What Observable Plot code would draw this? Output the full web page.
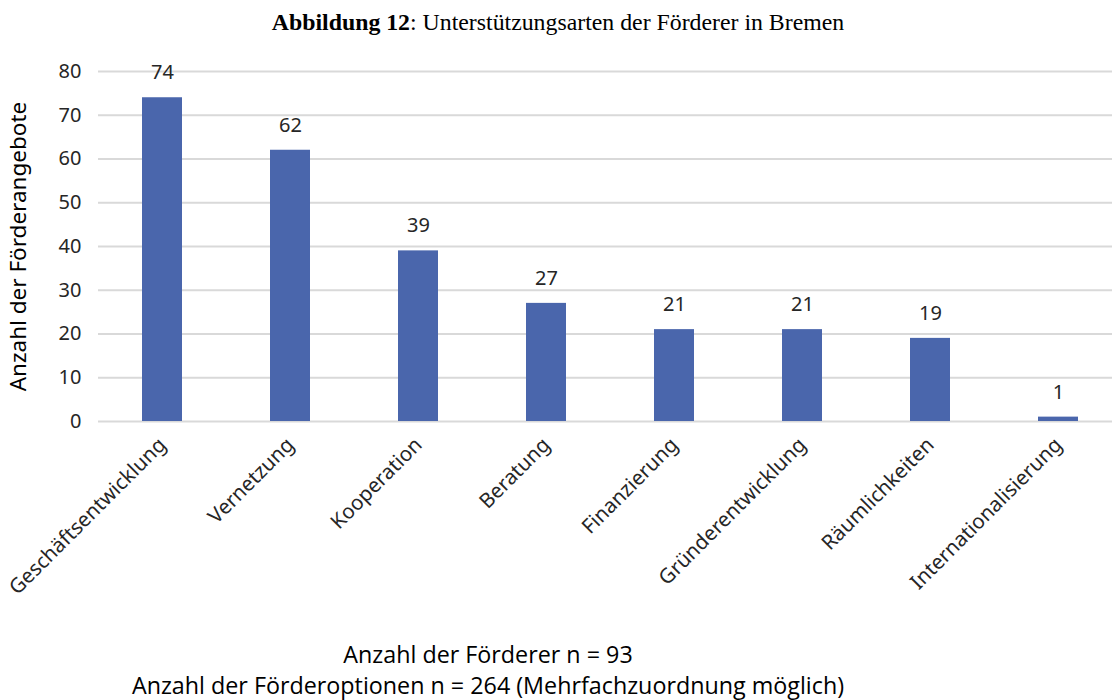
<!DOCTYPE html>
<html><head><meta charset="utf-8">
<script src="https://cdn.jsdelivr.net/npm/d3@7"></script>
<script src="https://cdn.jsdelivr.net/npm/@observablehq/plot@0.6"></script>
<style>
body{margin:0;background:#fff;width:1112px;overflow:hidden}
#title{height:44px;line-height:44px;text-align:center;font-family:"Liberation Serif",serif;font-size:23.8px;color:#000;padding-left:4px}
#caption{text-align:center;font-family:"Open Sans",sans-serif;font-size:23.3px;line-height:31px;color:#000;padding-top:15px;padding-right:136px}
svg{display:block}
</style></head><body>
<div id="title"><b>Abbildung 12</b>: Unterstützungsarten der Förderer in Bremen</div>
<div id="chart"></div>
<div id="caption">Anzahl der Förderer n = 93<br>Anzahl der Förderoptionen n = 264 (Mehrfachzuordnung möglich)</div>
<script>
const categories = ["Geschäftsentwicklung","Vernetzung","Kooperation","Beratung","Finanzierung","Gründerentwicklung","Räumlichkeiten","Internationalisierung"];
const values = [74,62,39,27,21,21,19,1];
const yTicks = [0,10,20,30,40,50,60,70,80];
const data = categories.map((c,i)=>({cat:c, value:values[i]}));
const font = "'Noto Sans', 'Open Sans', sans-serif";
const chart = Plot.plot({
  width:1112, height:580,
  marginLeft:98, marginRight:0, marginTop:27, marginBottom:203,
  style:{fontFamily:font, fontSize:"19px", color:"#262626", background:"#fff"},
  x:{domain:categories, range:[98,1122], paddingInner:0.6875, paddingOuter:0.34375, align:0.5, label:null},
  y:{domain:[0,80], ticks:yTicks, label:null},
  marks:[
    Plot.ruleY(yTicks, {stroke:"#d9d9d9", strokeWidth:2}),
    Plot.barY(data, {x:"cat", y:"value", fill:"#4a66ac"}),
    Plot.text(data, {x:"cat", y:"value", text:d=>String(d.value), dy:-25, fontSize:20, fill:"#262626"}),
    Plot.axisY({ticks:yTicks, tickSize:0, tickPadding:17, fontSize:20, label:null}),
    Plot.axisX({tickSize:0, tickRotate:-45, tickPadding:20, fontSize:20.5, label:null}),
    Plot.text(["Anzahl der Förderangebote"], {frameAnchor:"left", textAnchor:"middle", dx:-80, rotate:-90, fontSize:22.5, fill:"#000"})
  ]
});
document.getElementById("chart").appendChild(chart);
</script>
</body></html>
